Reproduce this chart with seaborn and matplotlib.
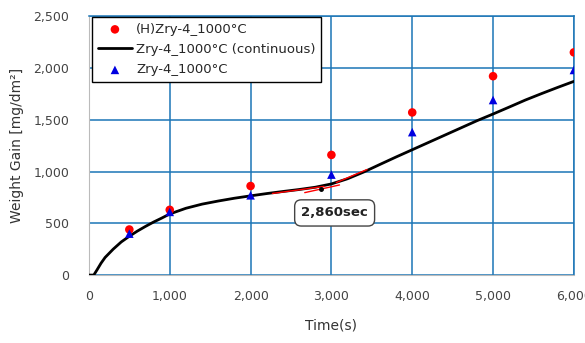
import numpy as np
import pandas as pd
import matplotlib.pyplot as plt
import matplotlib.ticker as mticker
import seaborn as sns

sns.set_style('white')
plt.rcParams['font.family'] = ['DejaVu Sans']

# pomiary punktowe
czas_pkt = [500, 1000, 2000, 3000, 4000, 5000, 6000]
h_zry = [440, 630, 860, 1160, 1570, 1920, 2150]
zry = [400, 610, 770, 970, 1380, 1690, 1980]

# krzywa ciagla
czas_ciagly = [0, 60, 100, 150, 200, 300, 400, 500, 600, 700, 800, 900, 1000, 1200, 1400,
               1600, 1800, 2000, 2200, 2400, 2600, 2800, 3000, 3200, 3400, 3600, 3800,
               4000, 4200, 4400, 4600, 4800, 5000, 5200, 5400, 5600, 5800, 6000]
zry_ciagly = [0, 0, 50, 115, 170, 250, 320, 375, 425, 470, 512, 550, 590, 645, 685,
              715, 742, 765, 787, 807, 826, 848, 880, 930, 995, 1068, 1140,
              1210, 1280, 1350, 1420, 1490, 1555, 1622, 1690, 1752, 1812, 1870]

# styczne w okolicy 2860 s
styczna_1_t = [2270, 2910]
styczna_1_v = [788, 856]
styczna_2_t = [2670, 3100]
styczna_2_v = [796, 870]
styczna_3_t = [3060, 3440]
styczna_3_v = [893, 1019]
punkt_t = [2877]
punkt_v = [835]

pkt = pd.DataFrame({'t': czas_pkt, 'h': h_zry, 'z': zry})
ciagly = pd.DataFrame({'t': czas_ciagly, 'v': zry_ciagly})

fig = plt.figure(figsize=(5.85, 3.43), dpi=100)
ax = fig.add_axes([0.152, 0.198, 0.829, 0.755])

siatka = '#1b75b6'
ax.grid(True, color=siatka, linewidth=1.1, zorder=0)
ax.set_axisbelow(True)

sns.lineplot(data=ciagly, x='t', y='v', color='black', linewidth=2.0, ax=ax,
             label='Zry-4_1000\u00b0C (continuous)', zorder=3)
ax.plot(styczna_1_t, styczna_1_v, color='red', linewidth=1.0, zorder=4)
ax.plot(styczna_2_t, styczna_2_v, color='red', linewidth=1.0, zorder=4)
ax.plot(styczna_3_t, styczna_3_v, color='red', linewidth=1.0, zorder=4)
ax.plot(punkt_t, punkt_v, 'o', color='black', markersize=2.5, zorder=5)
sns.scatterplot(data=pkt, x='t', y='h', color='red', marker='o', s=38, edgecolor='none',
                ax=ax, label='(H)Zry-4_1000\u00b0C', zorder=6)
sns.scatterplot(data=pkt, x='t', y='z', color='#0000e0', marker='^', s=38, edgecolor='none',
                ax=ax, label='Zry-4_1000\u00b0C', zorder=6)

ax.set_xlim(0, 6000)
ax.set_ylim(0, 2500)
ax.xaxis.set_major_locator(mticker.MultipleLocator(1000))
ax.yaxis.set_major_locator(mticker.MultipleLocator(500))
ax.xaxis.set_minor_locator(mticker.MultipleLocator(200))
ax.yaxis.set_minor_locator(mticker.MultipleLocator(100))
fmt = mticker.FuncFormatter(lambda v, p: f'{int(v):,}')
ax.xaxis.set_major_formatter(fmt)
ax.yaxis.set_major_formatter(fmt)
ax.tick_params(axis='both', which='major', labelsize=9, labelcolor='#444444', length=0)
ax.tick_params(axis='both', which='minor', direction='in', length=4, color='#aaaaaa')
ax.tick_params(axis='x', which='major', pad=11)
ax.tick_params(axis='y', which='major', pad=14)

for s in ['left', 'bottom']:
    ax.spines[s].set_color('#bbbbbb')
for s in ['top', 'right']:
    ax.spines[s].set_color(siatka)
    ax.spines[s].set_linewidth(1.1)

ax.set_xlabel('Time(s)', fontsize=10, color='#333333', labelpad=11)
ax.set_ylabel('Weight Gain [mg/dm\u00b2]', fontsize=10, color='#333333', labelpad=7)

# kolejnosc legendy jak w oryginale
h, l = ax.get_legend_handles_labels()
order = [l.index('(H)Zry-4_1000\u00b0C'), l.index('Zry-4_1000\u00b0C (continuous)'),
         l.index('Zry-4_1000\u00b0C')]
leg = ax.legend([h[i] for i in order], [l[i] for i in order], loc='upper left',
                bbox_to_anchor=(0.006, 0.997), fontsize=9.5, frameon=True, fancybox=False,
                edgecolor='black', framealpha=1, borderpad=0.45, labelspacing=0.55,
                handlelength=2.6, handletextpad=0.3, borderaxespad=0)
leg.get_frame().set_linewidth(1.0)

ax.text(3040, 600, '2,860sec', ha='center', va='center', fontsize=9.5, color='#222222',
        fontweight='semibold',
        bbox=dict(boxstyle='round,pad=0.5', facecolor='white', edgecolor='#444444', linewidth=1.0),
        zorder=7)

plt.savefig('out.png', dpi=100)
